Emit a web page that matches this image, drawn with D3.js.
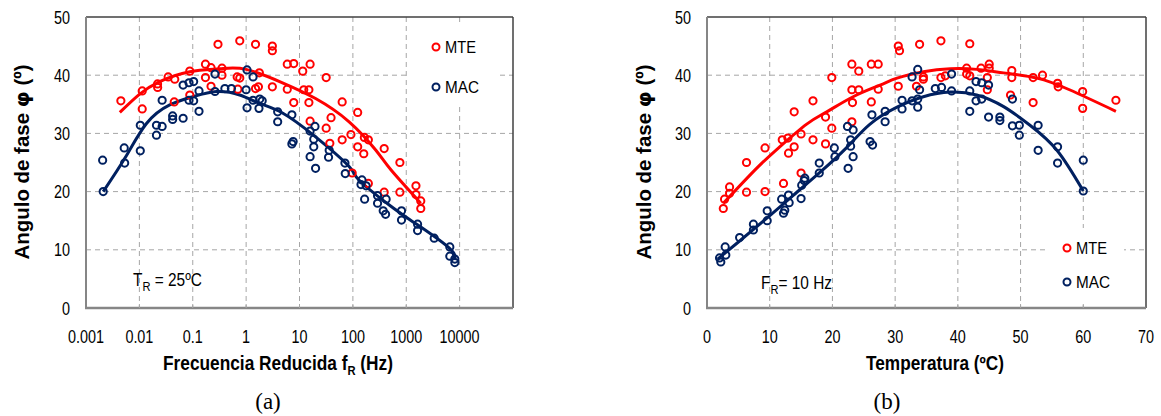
<!DOCTYPE html>
<html>
<head>
<meta charset="utf-8">
<script src="https://cdn.jsdelivr.net/npm/d3@7"></script>
<style>
  body { margin: 0; background: #fff; }
  svg { display: block; }
  .tick-lbl { font-family: 'Liberation Sans', Arial, sans-serif; font-size: 18px; fill: #000; }
  .leg-lbl { font-family: 'Liberation Sans', Arial, sans-serif; font-size: 17px; fill: #000; }
  .ax-title { font-family: 'Liberation Sans', Arial, sans-serif; font-size: 20px; font-weight: bold; fill: #000; }
  .note { font-family: 'Liberation Sans', Arial, sans-serif; font-size: 18px; fill: #000; }
  .cap { font-family: 'Liberation Serif', 'Times New Roman', serif; font-size: 23px; fill: #000; }
</style>
</head>
<body>
<div id="chart"></div>
<script>
//------------------------------DATA------------------------------//
// (a) reduced frequency f_R (Hz) vs phase angle (deg)
var mteFreq = [
  [0.0045,35.6],[0.0113,37.3],[0.0113,34.2],[0.0219,38.5],[0.022,37.9],[0.0346,39.7],[0.046,39.3],[0.045,35.4],
  [0.088,40.7],[0.088,36.6],[0.173,41.9],[0.173,39.6],[0.22,41.3],[0.22,38.1],[0.297,45.3],[0.353,41.2],[0.353,40.0],
  [0.76,45.9],[0.68,39.7],[0.76,39.5],[0.7,37.6],[1.5,45.3],[1.5,37.7],[1.7,38.0],[1.77,40.4],[3.1,45.0],[3.1,44.2],
  [3.1,38.0],[5.9,41.9],[7.8,42.0],[11.5,40.7],[15.8,41.9],[5.9,37.6],[12,37.5],[15,37.5],[7.8,35.3],[15,35.3],
  [31.6,39.6],[63,35.4],[123,33.6],[39,32.7],[15.8,32.1],[31.6,30.9],[63,28.9],[92,29.8],[164,29.3],[195,28.9],
  [123,27.7],[160,26.5],[386,27.4],[760,25.0],[37,28.3],[97,23.2],[195,21.4],[386,19.9],[760,19.9],
  [1520,21.0],[1520,19.5],[1870,18.4],[1870,17.1]
];
var macFreq = [
  [0.00205,25.4],[0.0021,20.0],[0.0052,27.5],[0.0053,24.9],[0.0104,31.4],[0.0104,27.0],[0.0209,31.4],[0.0209,29.7],
  [0.0267,35.7],[0.0267,31.2],[0.042,33.0],[0.042,32.4],[0.066,32.6],[0.066,38.3],[0.085,38.7],[0.104,38.9],
  [0.085,35.7],[0.104,35.6],[0.131,33.8],[0.131,37.3],[0.261,40.2],[0.261,37.2],[0.4,37.7],[0.53,37.7],[1.0,37.5],
  [1.04,40.9],[1.04,34.4],[1.35,39.7],[1.35,35.7],[1.74,34.3],[1.8,35.9],[2.0,35.6],[3.9,33.7],[3.9,32.0],
  [7.2,33.2],[7.2,28.2],[7.6,28.6],[15.8,30.4],[19.5,31.2],[15.8,26.0],[18.5,29.0],[18.5,27.7],[36,27.1],[35,25.9],
  [71,24.9],[20,24.0],[72,23.1],[148,22.0],[177,21.0],[142,21.2],[166,18.7],[290,19.3],[290,18.0],[420,18.7],
  [370,16.7],[410,16.1],[815,16.7],[815,15.1],[1630,14.4],[1630,13.3],[3340,12.0],[6550,10.5],[6550,8.9],
  [8130,8.4],[8130,7.8]
];
var mteFreqFit = [[0.0043,33.6],[0.01,36.7],[0.024,38.9],[0.088,40.6],[0.32,41.1],[1.0,41.0],[4.8,38.7],
  [20,36.0],[85,32.0],[270,27.1],[520,23.7],[1870,18.0]];
var macFreqFit = [[0.0021,20.0],[0.0054,25.8],[0.0136,31.7],[0.037,34.9],[0.1,36.3],[0.28,37.2],[0.76,36.6],
  [1.74,35.2],[4.8,33.5],[20,29.4],[85,24.3],[130,22.0],[480,17.7],[1500,14.5],[6200,10.4],[8130,8.4]];
var freqTicks = [0.001, 0.01, 0.1, 1, 10, 100, 1000, 10000];
var freqTickLabels = ["0.001","0.01","0.1","1","10","100","1000","10000"];

// (b) temperature (C) vs phase angle (deg)
var mteTemp = [
  [2.6,17.1],[2.8,18.7],[3.6,20.8],[3.6,19.7],[6.3,19.9],[9.25,20.0],[12.2,21.4],[15.0,23.2],
  [6.3,25.0],[9.25,27.5],[12.0,28.9],[12.9,29.2],[13.0,26.6],[13.9,27.7],[13.9,33.7],[15.0,29.9],[16.9,35.6],
  [16.9,28.9],[18.9,32.8],[18.9,28.2],[19.9,39.6],[19.9,30.9],[23.1,41.9],[24.2,40.7],[23.1,37.5],[24.2,37.5],
  [23.2,35.3],[23.1,32.0],[26.2,41.9],[27.3,41.9],[26.2,35.4],[27.3,37.6],[30.5,45.0],[30.7,44.2],[30.5,38.1],
  [33.9,45.3],[34.5,39.7],[34.5,39.3],[33.4,38.1],[37.3,45.9],[37.3,39.6],[38.0,39.9],[41.9,45.4],[41.4,41.2],
  [41.4,40.2],[41.9,39.9],[43.7,41.2],[45.0,41.9],[45.0,41.2],[44.7,39.6],[44.7,37.5],[48.6,40.8],[48.6,39.6],
  [48.4,36.6],[52.0,39.6],[53.5,40.0],[52.0,35.3],[55.9,38.6],[56.0,38.0],[59.9,37.2],[59.9,34.3],[65.2,35.7]
];
var macTemp = [
  [2.0,8.6],[2.2,7.9],[2.9,10.5],[3.0,9.1],[5.2,12.1],[7.4,14.4],[7.4,13.4],[9.6,16.7],[9.6,15.0],[11.9,18.7],
  [12.2,16.3],[12.4,16.8],[13.0,19.4],[13.1,18.1],[15.0,18.8],[15.1,21.1],[15.5,21.9],[15.6,22.3],[17.9,23.2],
  [17.9,24.9],[22.5,24.0],[20.3,27.5],[20.4,26.0],[22.4,31.2],[23.3,30.6],[22.9,28.9],[22.9,27.8],[23.3,26.0],
  [26.0,28.6],[26.4,28.0],[26.3,33.2],[28.4,33.8],[28.4,32.0],[31.1,35.7],[31.1,34.2],[32.7,35.6],[33.6,35.9],
  [33.6,34.5],[32.7,39.7],[33.6,41.0],[33.9,37.5],[36.4,37.7],[37.4,37.9],[39.0,40.2],[39.0,37.3],[41.9,37.3],
  [41.9,33.8],[42.9,38.9],[43.8,38.7],[44.9,38.3],[42.9,35.6],[43.8,35.9],[44.9,32.8],[46.7,32.8],[46.7,32.2],
  [48.7,35.9],[48.7,31.3],[49.8,31.4],[49.8,29.7],[52.8,31.4],[52.8,27.1],[55.9,27.7],[55.9,24.9],
  [60.0,25.4],[60.0,20.1]
];
var mteTempFit = [[2.6,18.0],[7.9,24.0],[11.6,27.7],[15.9,31.6],[19.1,33.7],[23.3,36.3],[27.6,38.3],[30.3,39.5],
  [34.5,40.6],[38.8,41.1],[43.0,41.0],[47.3,40.4],[52.6,39.5],[57.8,37.5],[65.2,33.8]];
var macTempFit = [[1.7,8.4],[5.3,11.6],[9.5,15.4],[13.8,19.4],[18.0,23.3],[22.3,27.6],[26.0,31.6],[30.3,34.5],
  [34.5,36.3],[38.8,37.1],[43.0,36.6],[47.3,34.6],[51.5,31.4],[55.8,27.1],[60.0,20.1]];
var tempTicks = [0, 10, 20, 30, 40, 50, 60, 70];

var yTicks = [0, 10, 20, 30, 40, 50];
var seriesNames = ["MTE", "MAC"];
var seriesColors = ["#ff0000", "#002060"];

//------------------------------SVG-------------------------------//
var svg = d3.select("#chart").append("svg")
    .attr("width", 1161)
    .attr("height", 416);

var yScale = d3.scaleLinear().domain([0, 50]).range([308, 17]);

// text squeezed horizontally (the original uses a narrow face)
// target = wanted width in px, otherwise a fixed 0.8 squeeze
function narrowText(parent, x, y, anchor, cls, target, rot, build) {
    var g = parent.append("g");
    var t = g.append("text").attr("class", cls).attr("text-anchor", anchor);
    build(t);
    var k = 0.8;
    if (target) k = target / t.node().getBBox().width;
    g.attr("transform", "translate(" + x + "," + y + ")" + (rot ? " rotate(" + rot + ")" : "") + " scale(" + k + ",1)");
    return g;
}

function drawPanel(p) {
    var g = svg.append("g");
    var x = p.x;
    var x0 = x.range()[0], x1 = x.range()[1];
    var yTop = yScale.range()[1], yBot = yScale.range()[0];

    // gridlines
    g.selectAll(".hgrid").data(yTicks.filter(function(d){ return d > 0 && d < 50; }))
      .enter().append("line")
      .attr("x1", x0).attr("x2", x1)
      .attr("y1", function(d){ return yScale(d); })
      .attr("y2", function(d){ return yScale(d); })
      .attr("stroke", "#a6a6a6").attr("stroke-dasharray", "5,4");
    g.selectAll(".vgrid").data(p.ticks.slice(1).filter(function(d){ return x(d) < x1 - 2; }))
      .enter().append("line")
      .attr("x1", function(d){ return x(d); })
      .attr("x2", function(d){ return x(d); })
      .attr("y1", yTop).attr("y2", yBot)
      .attr("stroke", "#a6a6a6").attr("stroke-dasharray", "5,4");

    // legend box (white, hides grid)
    g.append("rect").attr("x", p.legBox[0]).attr("y", p.legBox[1])
      .attr("width", p.legBox[2]).attr("height", p.legBox[3]).attr("fill", "#fff");

    // frame
    g.append("line").attr("x1", x0).attr("x2", x1).attr("y1", yTop).attr("y2", yTop)
      .attr("stroke", "#404040").attr("stroke-width", 1.5);
    g.append("line").attr("x1", x1).attr("x2", x1).attr("y1", yTop).attr("y2", yBot)
      .attr("stroke", "#404040").attr("stroke-width", 1.5);
    g.append("line").attr("x1", x0).attr("x2", x0).attr("y1", yTop).attr("y2", yBot + 1)
      .attr("stroke", "#868686").attr("stroke-width", 2);
    g.append("line").attr("x1", x0 - 1).attr("x2", x1).attr("y1", yBot).attr("y2", yBot)
      .attr("stroke", "#868686").attr("stroke-width", 2.5);
    g.selectAll(".xt").data(p.ticks.slice(1, -1))
      .enter().append("line")
      .attr("x1", function(d){ return x(d); }).attr("x2", function(d){ return x(d); })
      .attr("y1", yBot - 4).attr("y2", yBot)
      .attr("stroke", "#a6a6a6");

    // tick labels
    yTicks.forEach(function(d) {
        narrowText(g, x0 - 16, yScale(d) + 6.5, "end", "tick-lbl", 0, 0, function(t){ t.text(d); });
    });
    p.ticks.forEach(function(d, i) {
        narrowText(g, x(d), 343, "middle", "tick-lbl", 0, 0,
            function(t){ t.text(p.tickLabels ? p.tickLabels[i] : d); });
    });

    // trend lines
    var line = d3.line()
        .x(function(d){ return x(d[0]); })
        .y(function(d){ return yScale(d[1]); })
        .curve(d3.curveNatural);
    p.fits.forEach(function(f, i) {
        g.append("path").attr("d", line(f))
          .attr("fill", "none").attr("stroke", seriesColors[i]).attr("stroke-width", 3);
    });

    // points
    p.series.forEach(function(s, i) {
        g.selectAll(".pt" + i).data(s).enter().append("circle")
          .attr("cx", function(d){ return x(d[0]); })
          .attr("cy", function(d){ return yScale(d[1]); })
          .attr("r", 3.6)
          .attr("fill", "none")
          .attr("stroke", seriesColors[i])
          .attr("stroke-width", 2);
    });

    // legend
    var legW = [31, 34];
    seriesNames.forEach(function(n, i) {
        var cy = p.leg[1] + i * p.leg[2];
        g.append("circle").attr("cx", p.leg[0]).attr("cy", cy)
          .attr("r", 3.5).attr("fill", "none").attr("stroke", seriesColors[i]).attr("stroke-width", 2);
        narrowText(g, p.leg[0] + 9, cy + 6, "start", "leg-lbl", legW[i], 0, function(t){ t.text(n); });
    });

    // axis titles
    narrowText(g, p.yTitleX, 162, "middle", "ax-title", 195, -90, function(t) {
        t.append("tspan").text("Angulo de fase ");
        t.append("tspan").style("font-family", "'DejaVu Sans', sans-serif").text("\u03c6");
        t.append("tspan").text(" (\u00ba)");
    });
    narrowText(g, p.xTitleX, 370, "middle", "ax-title", p.xTitleW, 0, p.xTitle);

    g.append("text").attr("class", "cap")
      .attr("x", p.capX).attr("y", 409).attr("text-anchor", "middle").text(p.cap);

    p.note(g);
}

drawPanel({
    x: d3.scaleLog().domain([0.001, 100000]).range([86, 513]),
    ticks: freqTicks,
    tickLabels: freqTickLabels,
    series: [mteFreq, macFreq],
    fits: [mteFreqFit, macFreqFit],
    legBox: [410, 22, 87, 84],
    leg: [436, 47, 40],
    yTitleX: 29,
    xTitleX: 278,
    xTitleW: 230,
    xTitle: function(t) {
        t.append("tspan").text("Frecuencia Reducida f");
        t.append("tspan").attr("dy", 5).style("font-size", "13px").text("R");
        t.append("tspan").attr("dy", -5).text(" (Hz)");
    },
    capX: 268,
    cap: "(a)",
    note: function(g) {
        narrowText(g, 133, 286, "start", "note", 69, 0, function(t) {
            t.append("tspan").text("T");
            t.append("tspan").attr("dy", 5).style("font-size", "13px").text("R");
            t.append("tspan").attr("dy", -5).text(" = 25\u00baC");
        });
    }
});

drawPanel({
    x: d3.scaleLinear().domain([0, 70]).range([707, 1146]),
    ticks: tempTicks,
    series: [mteTemp, macTemp],
    fits: [mteTempFit, macTempFit],
    legBox: [1048, 228, 76, 74],
    leg: [1067, 248, 34],
    yTitleX: 651,
    xTitleX: 935,
    xTitleW: 138,
    xTitle: function(t) {
        t.append("tspan").text("Temperatura (\u00baC)");
    },
    capX: 887,
    cap: "(b)",
    note: function(g) {
        narrowText(g, 761, 289, "start", "note", 71, 0, function(t) {
            t.append("tspan").text("F");
            t.append("tspan").attr("dy", 5).style("font-size", "13px").text("R");
            t.append("tspan").attr("dy", -5).text("= 10 Hz");
        });
    }
});
</script>
</body>
</html>
